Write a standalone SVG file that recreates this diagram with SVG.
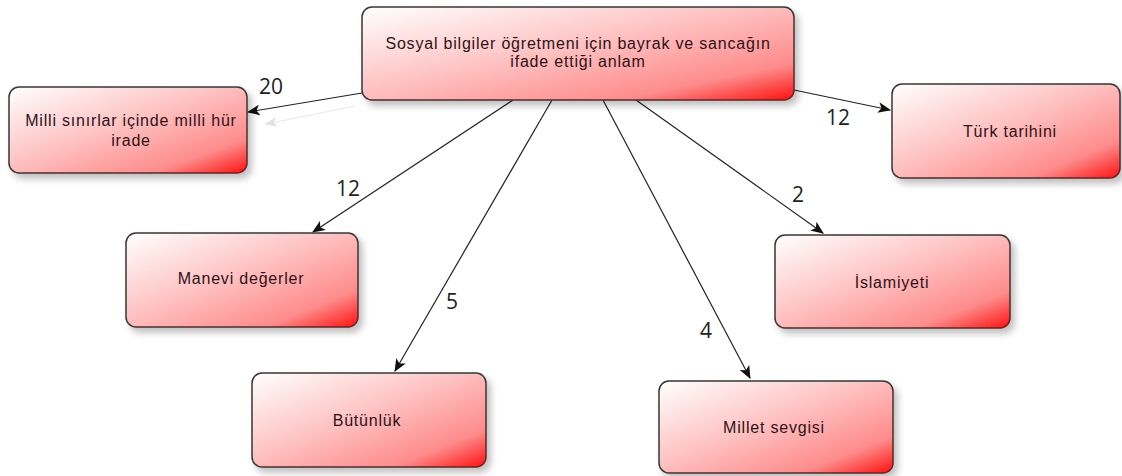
<svg xmlns="http://www.w3.org/2000/svg" width="1122" height="476" viewBox="0 0 1122 476">
<defs>
<linearGradient id="g" x1="0" y1="0" x2="1" y2="1">
<stop offset="0" stop-color="#ffffff"/>
<stop offset="0.45" stop-color="#ffc2c2"/>
<stop offset="0.8" stop-color="#ff8c8c"/>
<stop offset="1" stop-color="#ff1010"/>
</linearGradient>
<filter id="sh" x="-10%" y="-10%" width="130%" height="140%">
<feGaussianBlur in="SourceAlpha" stdDeviation="3.5"/>
<feOffset dx="4" dy="5" result="b"/>
<feComponentTransfer><feFuncA type="linear" slope="0.25"/></feComponentTransfer>
<feMerge><feMergeNode/><feMergeNode in="SourceGraphic"/></feMerge>
</filter>
<marker id="ah" viewBox="0 0 12 10" refX="11" refY="5" markerWidth="13" markerHeight="11" markerUnits="userSpaceOnUse" orient="auto">
<path d="M0,0 L12,5 L0,10 L3,5 z" fill="#111"/>
</marker>
<marker id="ahf" viewBox="0 0 12 10" refX="11" refY="5" markerWidth="12" markerHeight="10" markerUnits="userSpaceOnUse" orient="auto">
<path d="M0,0 L12,5 L0,10 L3,5 z" fill="#e2e2e2"/>
</marker>
</defs>
<style>
.box{fill:url(#g);stroke:#3a3535;stroke-width:1.5;filter:url(#sh)}
.t{font-family:"Liberation Sans",Arial,sans-serif;font-size:16px;letter-spacing:0.8px;fill:#2e1218;text-anchor:middle}
.c{stroke:#222;stroke-width:1.2;fill:none;marker-end:url(#ah)}
.lbl{font-family:"Open Sans","DejaVu Sans",sans-serif;font-size:21px;fill:#222}
</style>
<rect width="1122" height="476" fill="#ffffff"/>
<g id="connectors">
<line x1="355" y1="106" x2="266" y2="124" stroke="#e8e8e8" stroke-width="1.2" marker-end="url(#ahf)"/>
<line class="c" x1="362" y1="93" x2="248" y2="112"/>
<line class="c" x1="794" y1="90" x2="890" y2="110"/>
<line class="c" x1="513" y1="100" x2="313" y2="232"/>
<line class="c" x1="552" y1="100" x2="395" y2="371"/>
<line class="c" x1="603" y1="100" x2="750" y2="378"/>
<line class="c" x1="636" y1="100" x2="823" y2="233"/>
<text class="lbl" x="259" y="94">20</text>
<text class="lbl" x="826" y="125">12</text>
<text class="lbl" x="336" y="196">12</text>
<text class="lbl" x="446" y="309">5</text>
<text class="lbl" x="700" y="338">4</text>
<text class="lbl" x="792" y="202">2</text>
</g>
<g id="center">
<rect class="box" x="362" y="7" width="432" height="93" rx="10"/>
<text class="t" x="578" y="49">Sosyal bilgiler öğretmeni için bayrak ve sancağın</text>
<text class="t" x="578" y="67">ifade ettiği anlam</text>
</g>
<g id="milli">
<rect class="box" x="9" y="87" width="238" height="86" rx="10"/>
<text class="t" x="131" y="126">Milli sınırlar içinde milli hür</text>
<text class="t" x="131" y="146">irade</text>
</g>
<g id="turk">
<rect class="box" x="892" y="84" width="228" height="94" rx="10"/>
<text class="t" x="1010" y="137">Türk tarihini</text>
</g>
<g id="manevi">
<rect class="box" x="126" y="233" width="232" height="94" rx="10"/>
<text class="t" x="241" y="284">Manevi değerler</text>
</g>
<g id="islam">
<rect class="box" x="775" y="235" width="235" height="93" rx="10"/>
<text class="t" x="892" y="288">İslamiyeti</text>
</g>
<g id="butunluk">
<rect class="box" x="252" y="373" width="234" height="94" rx="10"/>
<text class="t" x="367" y="426">Bütünlük</text>
</g>
<g id="millet">
<rect class="box" x="659" y="381" width="234" height="92" rx="10"/>
<text class="t" x="774" y="433">Millet sevgisi</text>
</g>
</svg>
